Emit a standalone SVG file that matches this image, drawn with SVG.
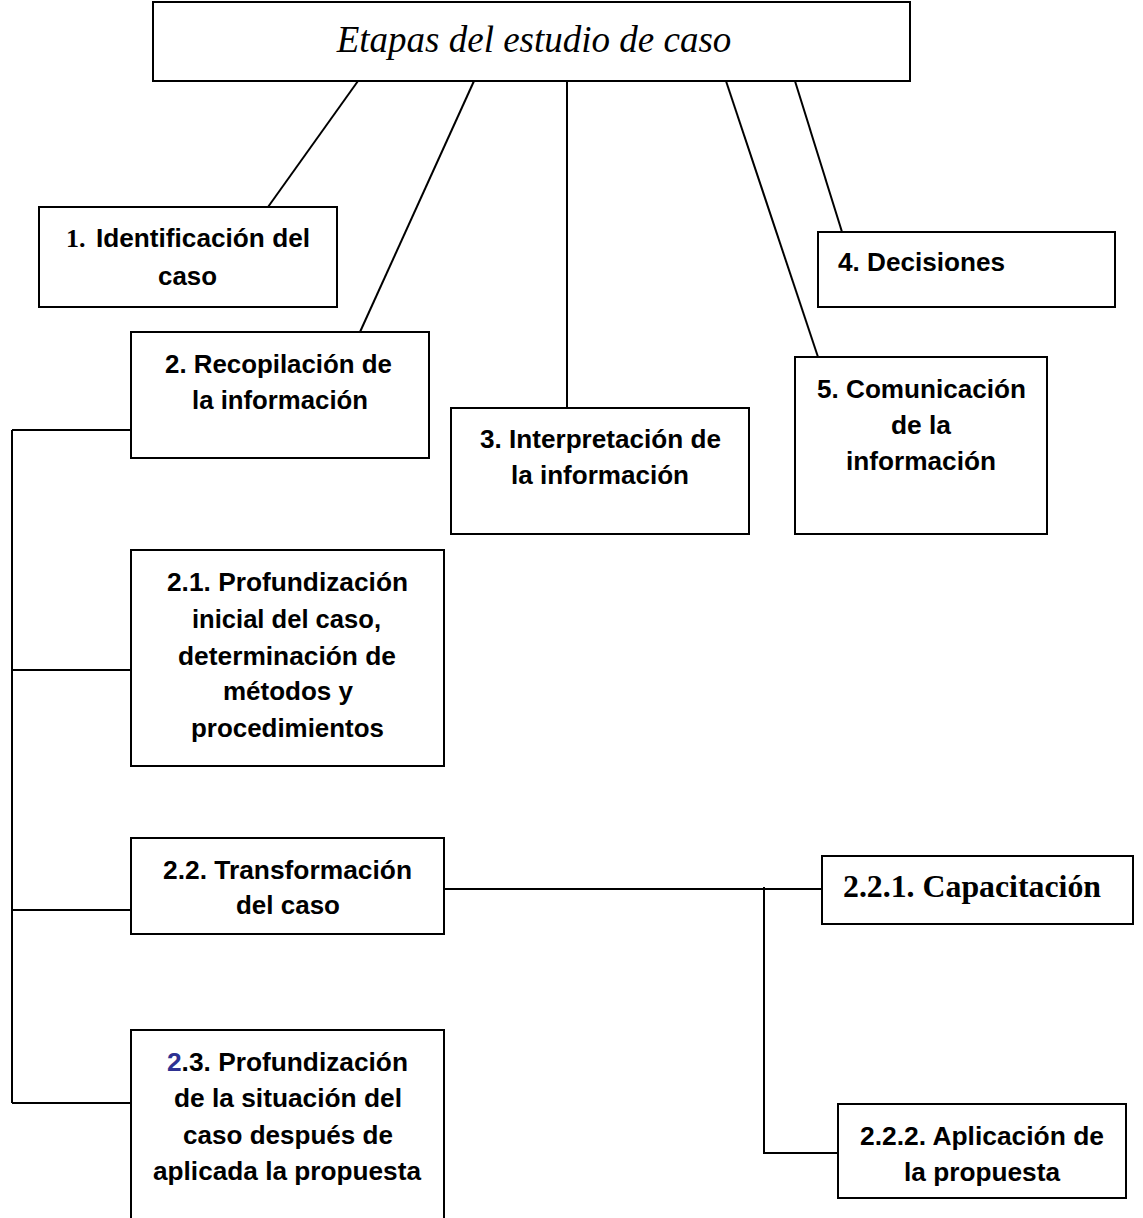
<svg xmlns="http://www.w3.org/2000/svg" width="1143" height="1218" viewBox="0 0 1143 1218">
<style>
rect{fill:#fff;stroke:#000;stroke-width:2}
.c line, .c polyline{stroke:#000;stroke-width:2;fill:none}
text{font-family:"Liberation Sans",Arial,sans-serif;font-size:26px;font-weight:bold;fill:#000}
.t{font-family:"Liberation Serif",serif;font-style:italic;font-weight:normal;font-size:37px;text-anchor:middle}
.b{font-family:"Liberation Serif",serif;font-weight:bold}
</style>
<rect width="1143" height="1218" style="fill:#fff;stroke:none"/>
<g class="c" id="connectors">
<line x1="358" y1="81" x2="268" y2="207"/>
<line x1="474" y1="81" x2="360" y2="332"/>
<line x1="567" y1="81" x2="567" y2="408"/>
<line x1="726" y1="81" x2="818" y2="357"/>
<line x1="795" y1="81" x2="842" y2="232"/>
<line x1="12" y1="430" x2="12" y2="1103"/>
<line x1="12" y1="430" x2="131" y2="430"/>
<line x1="12" y1="670" x2="131" y2="670"/>
<line x1="12" y1="910" x2="131" y2="910"/>
<line x1="12" y1="1103" x2="131" y2="1103"/>
<line x1="444" y1="889" x2="822" y2="889"/>
<polyline points="764,887 764,1153 838,1153"/>
</g>
<g id="title"><rect x="153" y="2" width="757" height="79"/><text class="t" x="534" y="52">Etapas del estudio de caso</text></g>
<g id="n1"><rect x="39" y="207" width="298" height="100"/><text class="b" x="66" y="247">1.</text><text x="96" y="247" textLength="214" lengthAdjust="spacingAndGlyphs">Identificación del</text><text x="158" y="285" textLength="59" lengthAdjust="spacingAndGlyphs">caso</text></g>
<g id="n2"><rect x="131" y="332" width="298" height="126"/><text x="165" y="373" textLength="227" lengthAdjust="spacingAndGlyphs">2. Recopilación de</text><text x="192" y="409" textLength="176" lengthAdjust="spacingAndGlyphs">la información</text></g>
<g id="n3"><rect x="451" y="408" width="298" height="126"/><text x="480" y="448" textLength="241" lengthAdjust="spacingAndGlyphs">3. Interpretación de</text><text x="511" y="484" textLength="178" lengthAdjust="spacingAndGlyphs">la información</text></g>
<g id="n4"><rect x="818" y="232" width="297" height="75"/><text x="838" y="271" textLength="167" lengthAdjust="spacingAndGlyphs">4. Decisiones</text></g>
<g id="n5"><rect x="795" y="357" width="252" height="177"/><text x="817" y="398" textLength="209" lengthAdjust="spacingAndGlyphs">5. Comunicación</text><text x="891" y="434" textLength="60" lengthAdjust="spacingAndGlyphs">de la</text><text x="846" y="470" textLength="150" lengthAdjust="spacingAndGlyphs">información</text></g>
<g id="n21"><rect x="131" y="550" width="313" height="216"/><text x="167" y="591" textLength="241" lengthAdjust="spacingAndGlyphs">2.1. Profundización</text><text x="192" y="628" textLength="189" lengthAdjust="spacingAndGlyphs">inicial del caso,</text><text x="178" y="665" textLength="218" lengthAdjust="spacingAndGlyphs">determinación de</text><text x="223" y="700" textLength="130" lengthAdjust="spacingAndGlyphs">métodos y</text><text x="191" y="737" textLength="193" lengthAdjust="spacingAndGlyphs">procedimientos</text></g>
<g id="n22"><rect x="131" y="838" width="313" height="96"/><text x="163" y="879" textLength="249" lengthAdjust="spacingAndGlyphs">2.2. Transformación</text><text x="236" y="914" textLength="104" lengthAdjust="spacingAndGlyphs">del caso</text></g>
<g id="n23"><rect x="131" y="1030" width="313" height="200"/><text x="167" y="1071" textLength="241" lengthAdjust="spacingAndGlyphs"><tspan style="fill:#2e3192">2</tspan>.3. Profundización</text><text x="174" y="1107" textLength="228" lengthAdjust="spacingAndGlyphs">de la situación del</text><text x="183" y="1144" textLength="210" lengthAdjust="spacingAndGlyphs">caso después de</text><text x="153" y="1180" textLength="268" lengthAdjust="spacingAndGlyphs">aplicada la propuesta</text></g>
<g id="n221"><rect x="822" y="856" width="311" height="68"/><text class="b" x="843" y="897" textLength="258" lengthAdjust="spacingAndGlyphs" style="font-size:31px">2.2.1. Capacitación</text></g>
<g id="n222"><rect x="838" y="1104" width="288" height="94"/><text x="860" y="1145" textLength="244" lengthAdjust="spacingAndGlyphs">2.2.2. Aplicación de</text><text x="904" y="1181" textLength="156" lengthAdjust="spacingAndGlyphs">la propuesta</text></g>
</svg>
